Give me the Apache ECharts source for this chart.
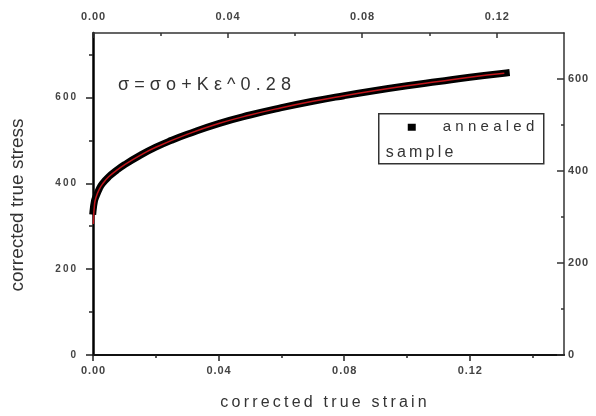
<!DOCTYPE html>
<html>
<head>
<meta charset="utf-8">
<script src="https://cdn.jsdelivr.net/npm/echarts@6/dist/echarts.min.js"></script>
<style>
html, body { margin: 0; padding: 0; background: #fff; }
#main { width: 596px; height: 416px; }
</style>
</head>
<body>
<div id="main"></div>
<script>
// measured curve, annealed sample
var strain = [0, 0.0005, 0.001, 0.002, 0.003, 0.005, 0.0075, 0.01, 0.015, 0.02, 0.025, 0.03,
  0.04, 0.05, 0.06, 0.07, 0.08, 0.09, 0.10, 0.11, 0.12, 0.1316];
var stress = [335, 360, 370, 387, 399, 415, 430, 443, 465, 484, 500, 514,
  539, 559, 576, 591, 604, 616, 627, 637, 647, 657];
// fitted curve (red)
var fitStrain = [0.0001, 0.0005, 0.001, 0.002, 0.003, 0.005, 0.0075, 0.01, 0.015, 0.02, 0.03,
  0.04, 0.05, 0.06, 0.07, 0.08, 0.09, 0.10, 0.11, 0.12, 0.131];
var fitStress = [305, 352, 368, 386, 398, 415, 430, 443, 465, 484, 514,
  539, 559, 576, 591, 604, 616, 627, 637, 647, 656];

// tick values
var xMajor = [0, 0.04, 0.08, 0.12];
var xMinorBottom = [0.02, 0.06, 0.10, 0.14];
var xMinorTop = [0.02, 0.06, 0.10];
var yMajor = [0, 200, 400, 600];
var yMinorLeft = [100, 300, 500, 700];
var yMinorRight = [100, 300, 500];

var FONT = '"Liberation Sans", Arial, sans-serif';

// spread characters apart (the original uses wide letter spacing)
function spaced(s, sep) {
  return s.split('').join(sep || '\u2009');
}

function pairs(xs, ys) {
  var out = [];
  for (var i = 0; i < xs.length; i++) out.push([xs[i], ys[i]]);
  return out;
}

var myChart = echarts.init(document.getElementById('main'));

var tickLabel = { color: '#444', fontFamily: FONT, fontWeight: 'bold' };

var option = {
  animation: false,
  grid: { left: 90, right: 32, top: 33, bottom: 57 },
  xAxis: [
    {
      type: 'value', position: 'bottom', min: 0, max: 0.15,
      name: spaced('corrected true strain'), nameLocation: 'middle', nameGap: 40,
      nameTextStyle: { fontSize: 16, color: '#333', fontFamily: FONT, padding: [0, 10, 0, 0] },
      axisLine: { onZero: false, lineStyle: { color: '#111', width: 2 } },
      axisTick: { customValues: xMajor, length: 6, lineStyle: { color: '#222', width: 1.5 } },
      axisLabel: Object.assign({ customValues: xMajor, fontSize: 11, margin: 10,
        formatter: function (v) { return spaced(v.toFixed(2), '\u200A'); } }, tickLabel),
      splitLine: { show: false }
    },
    {
      type: 'value', position: 'bottom', min: 0, max: 0.15,
      axisLine: { show: false, onZero: false },
      axisTick: { customValues: xMinorBottom, length: 3, lineStyle: { color: '#222', width: 1.5 } },
      axisLabel: { show: false },
      splitLine: { show: false }
    },
    {
      type: 'value', position: 'top', min: 0, max: 0.14,
      axisLine: { onZero: false, lineStyle: { color: '#333', width: 1.5 } },
      axisTick: { inside: true, customValues: xMajor, length: 5, lineStyle: { color: '#333', width: 1.5 } },
      axisLabel: Object.assign({ customValues: xMajor, fontSize: 11, margin: 11,
        formatter: function (v) { return spaced(v.toFixed(2), '\u200A'); } }, tickLabel),
      splitLine: { show: false }
    },
    {
      type: 'value', position: 'top', min: 0, max: 0.14,
      axisLine: { show: false, onZero: false },
      axisTick: { inside: true, customValues: xMinorTop, length: 3, lineStyle: { color: '#333', width: 1.5 } },
      axisLabel: { show: false },
      splitLine: { show: false }
    }
  ],
  yAxis: [
    {
      type: 'value', position: 'left', min: 0, max: 750,
      name: 'corrected true stress', nameLocation: 'middle', nameGap: 66,
      nameTextStyle: { fontSize: 19, color: '#333', fontFamily: FONT, padding: [0, 22, 0, 0] },
      axisLine: { onZero: false, lineStyle: { color: '#000', width: 2.5 } },
      axisTick: { customValues: yMajor, length: 7, lineStyle: { color: '#222', width: 1.5 } },
      axisLabel: Object.assign({ customValues: yMajor, fontSize: 10, margin: 17,
        formatter: function (v) { return spaced(String(v), '\u2009'); } }, tickLabel),
      splitLine: { show: false }
    },
    {
      type: 'value', position: 'left', min: 0, max: 750,
      axisLine: { show: false, onZero: false },
      axisTick: { customValues: yMinorLeft, length: 4, lineStyle: { color: '#222', width: 1.5 } },
      axisLabel: { show: false },
      splitLine: { show: false }
    },
    {
      type: 'value', position: 'right', min: 0, max: 700,
      axisLine: { onZero: false, lineStyle: { color: '#333', width: 1.5 } },
      axisTick: { inside: true, customValues: yMajor, length: 7, lineStyle: { color: '#333', width: 1.5 } },
      axisLabel: Object.assign({ customValues: yMajor, fontSize: 11, margin: 4,
        formatter: function (v) { return spaced(String(v), '\u200A'); } }, tickLabel),
      splitLine: { show: false }
    },
    {
      type: 'value', position: 'right', min: 0, max: 700,
      axisLine: { show: false, onZero: false },
      axisTick: { inside: true, customValues: yMinorRight, length: 3, lineStyle: { color: '#333', width: 1.5 } },
      axisLabel: { show: false },
      splitLine: { show: false }
    }
  ],
  series: [
    {
      name: 'annealed sample',
      type: 'line',
      xAxisIndex: 0, yAxisIndex: 0,
      data: pairs(strain, stress),
      smooth: true,
      showSymbol: false,
      lineStyle: { color: '#000', width: 7, cap: 'square', join: 'round' },
      z: 2
    },
    {
      name: 'fit',
      type: 'line',
      xAxisIndex: 0, yAxisIndex: 0,
      data: pairs(fitStrain, fitStress),
      smooth: true,
      showSymbol: false,
      lineStyle: { color: '#c0141a', width: 1.5 },
      z: 3
    }
  ],
  graphic: [
    {
      type: 'text', left: 118, top: 76,
      style: { text: spaced('σ=σo+Kε^0.28', '\u2009\u200A'), font: '18px ' + FONT, fill: '#333' }
    },
    {
      type: 'group', left: 378, top: 113,
      children: [
        { type: 'rect', shape: { x: 0, y: 0, width: 165, height: 50 },
          style: { fill: '#fff', stroke: '#333', lineWidth: 1.5 } },
        { type: 'rect', shape: { x: 29, y: 10, width: 8, height: 7 }, style: { fill: '#000' } },
        { type: 'text', x: 64, y: 6,
          style: { text: spaced('annealed', '\u2009\u200A'), font: '15px ' + FONT, fill: '#333' } },
        { type: 'text', x: 7, y: 31,
          style: { text: spaced('sample', '\u2009'), font: '16px ' + FONT, fill: '#333' } }
      ]
    }
  ]
};

myChart.setOption(option);
</script>
</body>
</html>
